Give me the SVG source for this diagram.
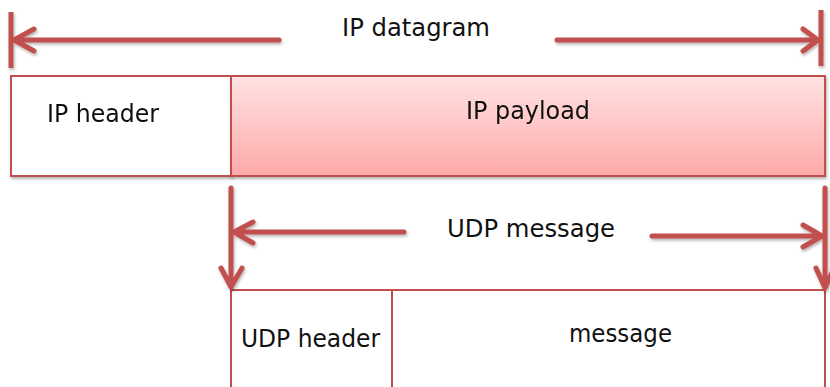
<svg xmlns="http://www.w3.org/2000/svg" width="830" height="387" viewBox="0 0 830 387">
  <defs>
    <linearGradient id="payloadFill" x1="0" y1="0" x2="0" y2="1">
      <stop offset="0" stop-color="#ffe3e3"/>
      <stop offset="1" stop-color="#ffa9a9"/>
    </linearGradient>
    <filter id="shadow" x="-5%" y="-20%" width="110%" height="150%">
      <feDropShadow dx="1" dy="2" stdDeviation="1.5" flood-color="#000" flood-opacity="0.3"/>
    </filter>
  </defs>
  <style>
    .box { stroke: #c0504d; stroke-width: 2; }
    .arrow { fill: none; stroke: #c0504d; stroke-width: 5; stroke-linecap: round; stroke-linejoin: round; }
    .bar { fill: none; stroke: #c0504d; stroke-width: 5; }
    .label { font-family: "DejaVu Sans", Verdana, sans-serif; font-size: 24px; fill: #111; }
  </style>

  <rect width="830" height="387" fill="#fff"/>

  <!-- IP datagram row -->
  <g id="ip-header" filter="url(#shadow)">
    <rect class="box" x="11" y="76" width="220" height="100" fill="#fff"/>
    <text class="label" x="47" y="122" textLength="112" lengthAdjust="spacingAndGlyphs">IP header</text>
  </g>
  <g id="ip-payload" filter="url(#shadow)">
    <rect class="box" x="231" y="76" width="594" height="100" fill="url(#payloadFill)"/>
    <text class="label" x="466" y="119" textLength="124" lengthAdjust="spacingAndGlyphs">IP payload</text>
  </g>

  <!-- UDP message row -->
  <g id="udp-header">
    <rect class="box" x="231" y="290" width="161" height="110" fill="#fff"/>
    <text class="label" x="241" y="347" textLength="139" lengthAdjust="spacingAndGlyphs">UDP header</text>
  </g>
  <g id="udp-data">
    <rect class="box" x="392" y="290" width="433" height="110" fill="#fff"/>
    <text class="label" x="569" y="342" textLength="103" lengthAdjust="spacingAndGlyphs">message</text>
  </g>

  <!-- span labels -->
  <g id="ip-datagram-label">
    <text class="label" x="342" y="36" textLength="148" lengthAdjust="spacingAndGlyphs">IP datagram</text>
  </g>
  <g id="udp-message-label">
    <text class="label" x="447" y="237" textLength="168" lengthAdjust="spacingAndGlyphs">UDP message</text>
  </g>

  <!-- extent markers and arrows -->
  <g id="connectors" filter="url(#shadow)">
    <!-- IP datagram extent -->
    <line class="bar" x1="11" y1="12" x2="11" y2="68"/>
    <path class="arrow" d="M279 40 H14 M34 29 L14 40 L34 51"/>
    <line class="bar" x1="821" y1="10" x2="821" y2="66"/>
    <path class="arrow" d="M557 40 H818 M803 29 L818 40 L803 51"/>

    <!-- UDP message extent -->
    <path class="arrow" d="M231 188 V287 M221 268 L231 287 L242 268"/>
    <path class="arrow" d="M404 232 H234 M253 222 L234 232 L253 243"/>
    <path class="arrow" d="M825 188 V288 M816 268 L825 288 L834 268"/>
    <path class="arrow" d="M652 236 H822 M803 225 L822 236 L803 247"/>
  </g>
</svg>
